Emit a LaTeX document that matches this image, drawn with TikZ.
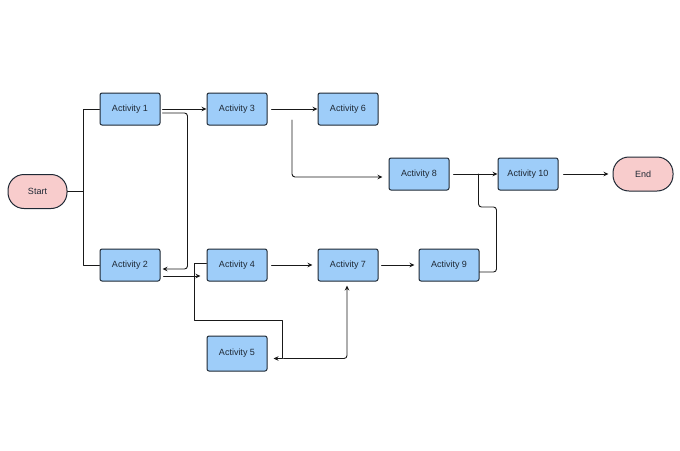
\documentclass[tikz,border=0pt]{standalone}
\usepackage{fontspec}
\setmainfont{Liberation Sans}
\usepackage{xcolor}
\usetikzlibrary{arrows.meta}
\definecolor{actblue}{RGB}{158,205,249}
\definecolor{termpink}{RGB}{248,204,204}
\definecolor{boxline}{RGB}{30,40,52}
\definecolor{linkgray}{RGB}{25,25,25}
\tikzset{
  every picture/.style={line join=round, line cap=round, >=Stealth},
  act/.style={draw=boxline, fill=actblue, rounded corners=2pt, line width=1pt, minimum width=60pt, minimum height=32pt, inner sep=0pt, font=\fontsize{9}{10}\selectfont, text=boxline},
  term/.style={act, fill=termpink, rounded corners=16pt, minimum height=34pt},
  link/.style={draw=linkgray, line width=0.9pt, -{Stealth[length=5pt,width=4.5pt]}},
  plain/.style={draw=linkgray, line width=0.9pt},
}

\begin{document}
\begin{tikzpicture}[x=1pt,y=-1pt]
\useasboundingbox (0,0) rectangle (680,450);
\node[term,minimum width=59pt](start) at (37.5,191.5){Start};
\node[act](a1) at (130,109){Activity 1};
\node[act](a2) at (130,265){Activity 2};
\node[act](a3) at (237,109){Activity 3};
\node[act](a4) at (237,265){Activity 4};
\node[act,minimum height=35pt](a5) at (237,353.5){Activity 5};
\node[act](a6) at (348,109){Activity 6};
\node[act](a7) at (348,265){Activity 7};
\node[act](a8) at (419,174){Activity 8};
\node[act](a9) at (449,265){Activity 9};
\node[act](a10) at (528,174){Activity 10};
\node[term](stop) at (643,174){End};
% start fork
\draw[plain](start.east)--++(16,0)coordinate(fork);
\draw[plain](a1.west)-|(fork)|-(a2.west);
% upper row
\draw[link]([xshift=2pt]a1.east)--(a3.west);
\draw[link,rounded corners=3pt]([xshift=2pt,yshift=-4pt]a1.east)--++(25,0)|-([xshift=2pt,yshift=-4pt]a2.east);
\draw[link]([xshift=4pt]a3.east)--(a6.west);
\coordinate(a3out) at (292,120);
\draw[link,rounded corners=3pt](a3out)|-([xshift=-6pt,yshift=-3pt]a8.west);
\draw[link]([xshift=4pt]a8.east)--(a10.west);
\draw[link]([xshift=5pt]a10.east)--([xshift=-4pt]stop.west);
% lower row
\draw[link]([xshift=3pt,yshift=-11pt]a2.east)--([xshift=-6pt,yshift=-11pt]a4.west);
\draw[link]([yshift=2pt]a4.west)--++(-12,0)--++(0,57)--++(88,0)|-([xshift=6pt,yshift=-5pt]a5.east);
\draw[link,rounded corners=3pt]([xshift=16pt,yshift=-5pt]a5.east)-|([xshift=-1pt,yshift=-4pt]a7.south);
\draw[link]([xshift=4pt]a4.east)--([xshift=-5pt]a7.west);
\draw[link]([xshift=3pt]a7.east)--([xshift=-4pt]a9.west);
\draw[plain,rounded corners=3pt]([yshift=-7pt]a9.east)--++(17,0)--++(0,-65)--++(-18,0)--++(0,-33);
\end{tikzpicture}
\end{document}
